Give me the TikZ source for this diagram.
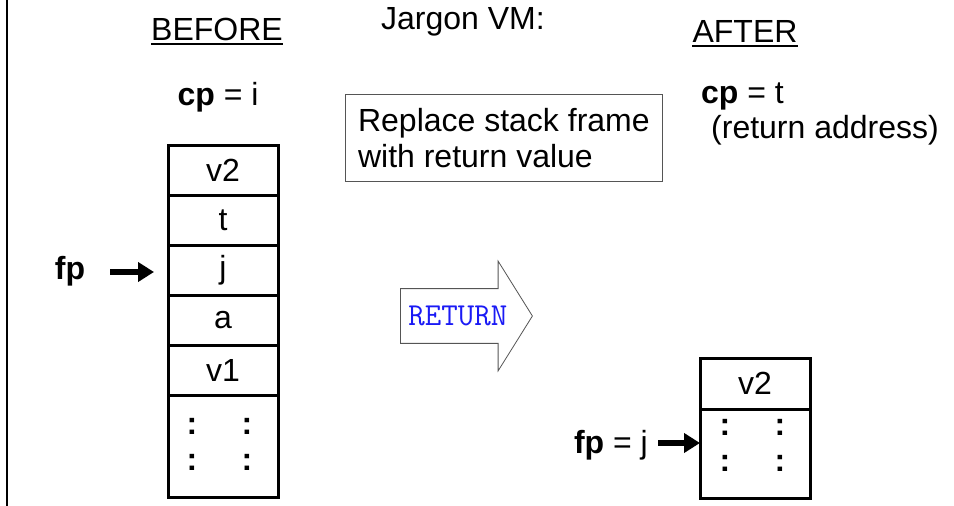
\documentclass[tikz,border=0pt]{standalone}
\usepackage{fontspec}
\setmainfont{Liberation Sans}
\usepackage{xcolor}
\usetikzlibrary{arrows.meta,positioning,shapes.arrows}
\definecolor{colorRet}{HTML}{1A1AF5}
\definecolor{colorNote}{HTML}{555555}

\begin{document}
\begin{tikzpicture}[x=1pt,y=-1pt,node distance=0pt,every node/.append style={font=\fontsize{32}{36}\selectfont,inner sep=0pt},cell/.style={draw,line width=3pt,minimum width=110pt,minimum height=50pt,outer sep=0pt},dots/.style={font=\fontsize{32}{36}\selectfont\bfseries},ptr/.style={-{Triangle[length=16pt,width=19pt]},line width=6pt},uline/.style={line width=2.5pt},note/.style={draw=colorNote,line width=0.8pt,align=left,inner xsep=10pt,minimum width=317pt,minimum height=87pt},retarrow/.style={single arrow,draw=colorNote,line width=0.8pt,single arrow head extend=27.5pt,single arrow tip angle=116,minimum height=132pt,inner xsep=6pt,inner ysep=17pt,font=\fontsize{32}{36}\selectfont\ttfamily,text=colorRet}]
    \useasboundingbox (0,0) rectangle (954,506);
    \draw[line width=2.5pt] (7,0) -- (7,506);
    % headings
    \node[anchor=base] (before) at (217,40) {BEFORE};
    \draw[uline] ([yshift=-4pt]before.base west) -- ([yshift=-4pt]before.base east);
    \node[anchor=base] (vm) at (463,30) {Jargon VM:};
    \node[anchor=base] (after) at (745,42) {AFTER};
    \draw[uline] ([yshift=-4pt]after.base west) -- ([yshift=-4pt]after.base east);
    \node[anchor=base] (cpL) at (218,105) {\textbf{cp} = i};
    \node[anchor=base west] (cpR) at (701,103) {\textbf{cp} = t};
    \node[anchor=base west] (raddr) at (711,138) {(return address)};
    \node[note,anchor=north west] (note) at (345,94) {Replace stack frame\\with return value};
    % stack before
    \node[cell] (v2L) at (223,170) {v2};
    \node[cell,below=of v2L] (tL) {t};
    \node[cell,below=of tL] (jL) {j};
    \node[cell,below=of jL] (aL) {a};
    \node[cell,below=of aL] (v1L) {v1};
    \node[cell,below=of v1L,minimum height=102pt] (restL) {};
    \foreach \dx/\n in {-31/a,24/b}
      \foreach \dy/\m in {-20/a,16/b}
        \node[dots] (dotL\n\m) at ([xshift=\dx pt,yshift=-\dy pt]restL.center) {:};
    \node[anchor=base] (fpL) at (70,279) {\textbf{fp}};
    \draw[ptr,shorten <=25pt,shorten >=14pt] ([yshift=7pt]fpL.base east) -- ([yshift=7pt]fpL.base east -| jL.west);
    % return
    \node[retarrow,anchor=tail] (ret) at (400,316) {RETURN};
    % stack after
    \node[cell,minimum height=51pt] (v2R) at (755,383.5) {v2};
    \node[cell,below=of v2R,minimum height=89pt] (restR) {};
    \foreach \dx/\n in {-30/a,25/b}
      \foreach \dy/\m in {-26.5/a,9.5/b}
        \node[dots] (dotR\n\m) at ([xshift=\dx pt,yshift=-\dy pt]restR.center) {:};
    \node[anchor=base east] (fpR) at (648,453) {\textbf{fp} = j};
    \draw[ptr,shorten <=10pt] ([yshift=10pt]fpR.base east) -- ([yshift=10pt]fpR.base east -| restR.west);
\end{tikzpicture}
\end{document}
